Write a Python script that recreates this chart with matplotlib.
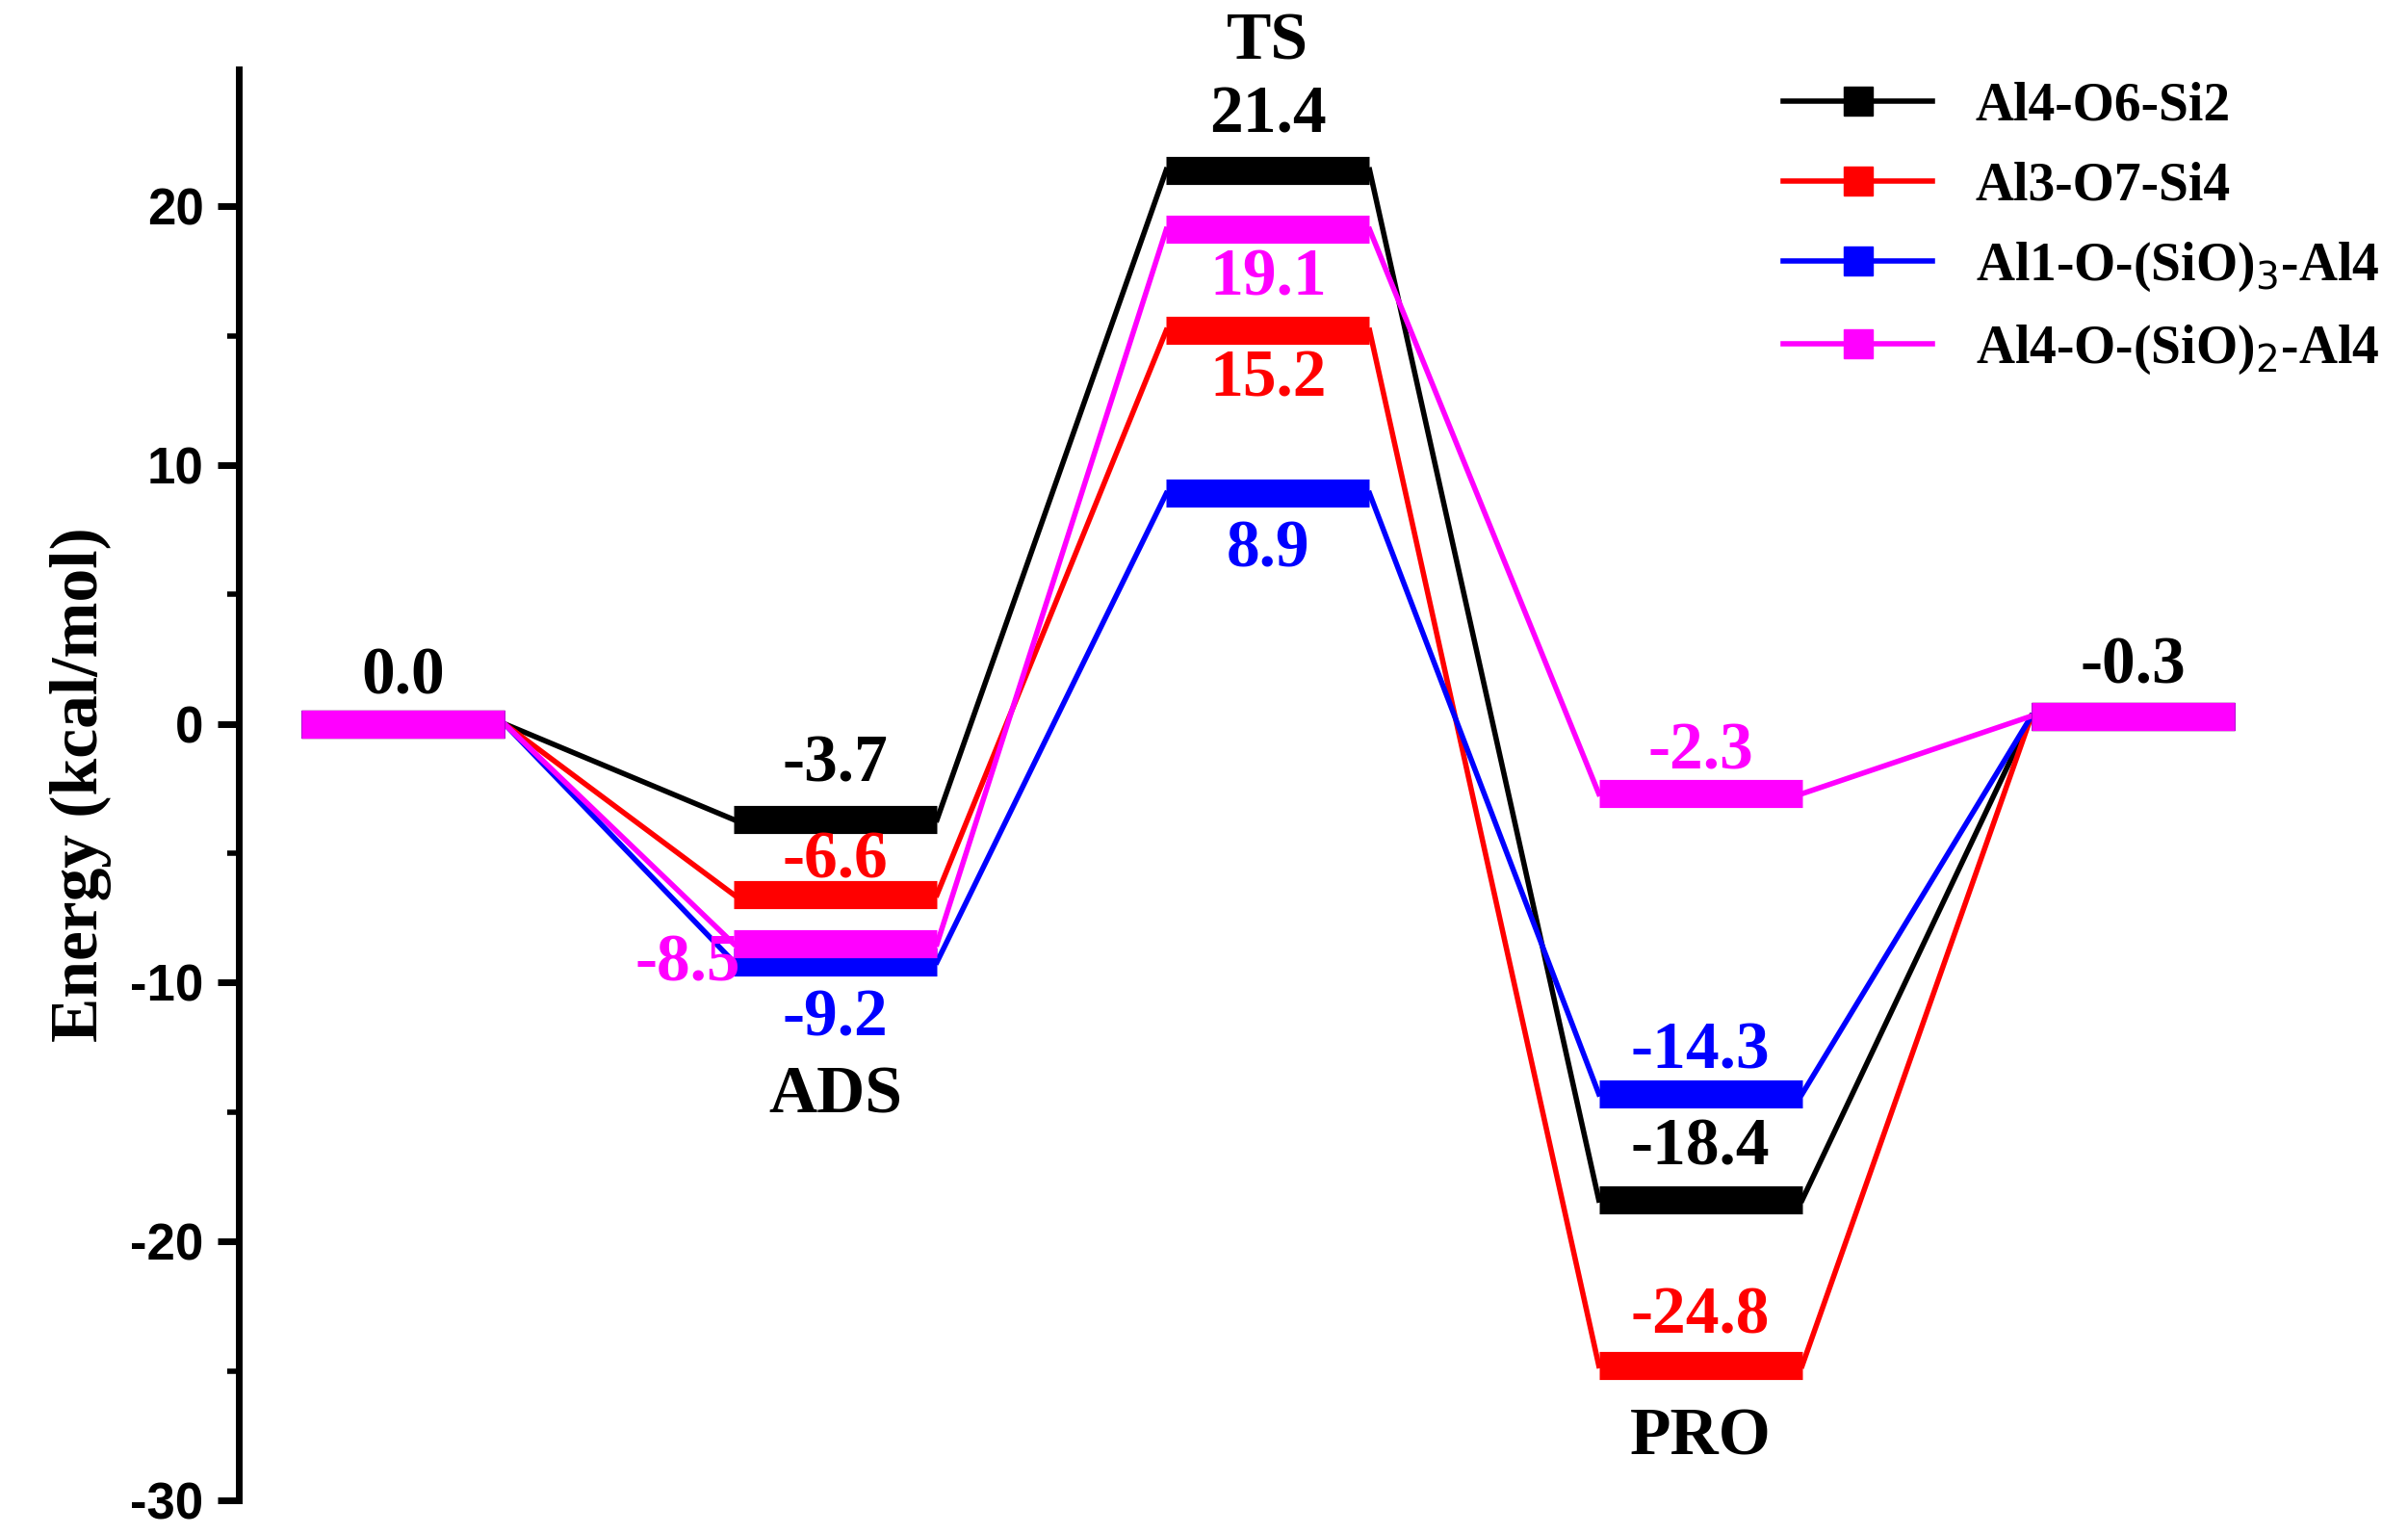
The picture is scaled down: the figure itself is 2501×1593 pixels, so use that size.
import matplotlib.pyplot as plt
import numpy as np

plt.rcParams['axes.unicode_minus'] = False

stages = ['', 'ADS', 'TS', 'PRO', '']
names = ['Al4-O6-Si2', 'Al3-O7-Si4', 'Al1-O-(SiO)$_3$-Al4', 'Al4-O-(SiO)$_2$-Al4']
colors = ['black', 'red', 'blue', 'magenta']
e_black = [0.0, -3.7, 21.4, -18.4, 0.3]
e_red = [0.0, -6.6, 15.2, -24.8, 0.3]
e_blue = [0.0, -9.2, 8.9, -14.3, 0.3]
e_mag = [0.0, -8.5, 19.1, -2.7, 0.3]
lab_black = ['0.0', '-3.7', '21.4', '-18.4', '-0.3']
lab_red = ['', '-6.6', '15.2', '-24.8', '']
lab_blue = ['', '-9.2', '8.9', '-14.3', '']
lab_mag = ['', '-8.5', '19.1', '-2.3', '']
# label placement offsets (data units) per series
off_black = [1.8, 2.1, 2.1, 2.0, 1.9]
off_red = [0, 1.3, -1.9, 1.9, 0]
off_blue = [0, -2.2, -2.2, 1.6, 0]
off_mag = [0, 0, -1.9, 1.6, 0]

series = [e_black, e_red, e_blue, e_mag]
labels = [lab_black, lab_red, lab_blue, lab_mag]
offs = [off_black, off_red, off_blue, off_mag]

x = np.arange(1, 6)
hw = 0.235
serif = 'Liberation Serif'
fs = 50

fig = plt.figure(figsize=(25.01, 15.93), dpi=100)
ax = fig.add_axes([0.099, 0.022, 0.9, 0.933])

for e, c, n in zip(series, colors, names):
    for i in range(4):
        ax.plot([x[i] + hw, x[i + 1] - hw], [e[i], e[i + 1]], color=c, lw=4, zorder=2)
    ax.plot([], [], color=c, lw=4, marker='s', ms=22, label=n)
for e, c in zip(series, colors):
    for i in range(5):
        ax.plot([x[i] - hw, x[i] + hw], [e[i], e[i]], color=c, lw=21, solid_capstyle='butt', zorder=3)

for e, c, lab, off in zip(series, colors, labels, offs):
    for i in range(5):
        if not lab[i]:
            continue
        xx = x[i]
        ha = 'center'
        yy = e[i] + off[i]
        if c == 'magenta' and i == 1:
            xx, ha, yy = x[i] - 0.22, 'right', -9.3
        ax.text(xx, yy, lab[i], color=c, ha=ha, va='center', fontsize=fs,
                fontweight='bold', family=serif, zorder=4)

ax.text(2, -14.4, 'ADS', ha='center', va='center', fontsize=fs, fontweight='bold', family=serif)
ax.text(3, 26.3, 'TS', ha='center', va='center', fontsize=fs, fontweight='bold', family=serif)
ax.text(4, -27.6, 'PRO', ha='center', va='center', fontsize=fs, fontweight='bold', family=serif)

ax.set_xlim(0.62, 5.63)
ax.set_ylim(-30, 25.3)
ax.set_yticks([-30, -20, -10, 0, 10, 20])
ax.set_yticks(np.arange(-25, 25, 10), minor=True)
ax.tick_params(axis='y', which='major', length=16, width=5, labelsize=38, direction='out', pad=10)
ax.tick_params(axis='y', which='minor', length=9, width=4, direction='out')
for t in ax.get_yticklabels():
    t.set_fontweight('bold')
    t.set_family('Liberation Sans')
ax.set_xticks([])
for s in ['top', 'right', 'bottom']:
    ax.spines[s].set_visible(False)
ax.spines['left'].set_linewidth(5)
ax.set_ylabel('Energy (kcal/mol)', fontsize=fs, fontweight='bold', family=serif, labelpad=14)

leg = ax.legend(loc='upper right', bbox_to_anchor=(1.01, 1.025), frameon=False,
                prop={'family': serif, 'weight': 'bold', 'size': 40}, handlelength=2.8,
                labelspacing=0.55)
plt.savefig('out.png', dpi=100)
